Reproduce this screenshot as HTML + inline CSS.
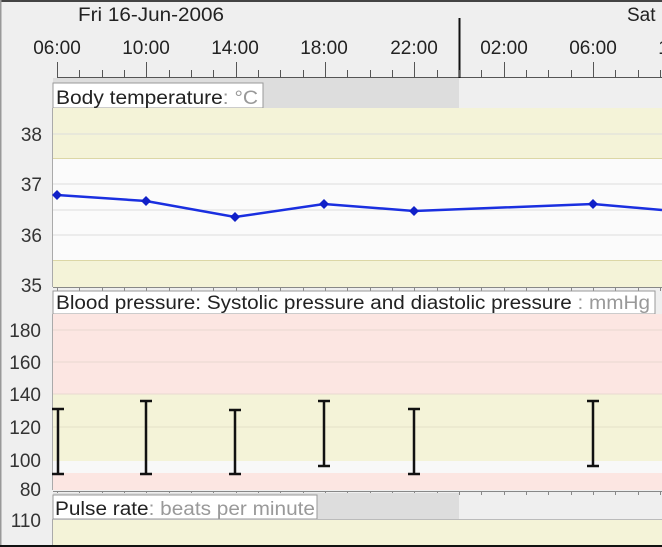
<!DOCTYPE html>
<html><head><meta charset="utf-8"><style>
html,body{margin:0;padding:0;background:#efefef;}
svg{display:block;font-family:"Liberation Sans",sans-serif;}
</style></head><body>
<svg id="s" width="662" height="547" viewBox="0 0 662 547" xmlns="http://www.w3.org/2000/svg">
<rect x="0" y="0" width="662" height="547" fill="#efefef"/>
<rect x="0" y="0" width="662" height="2" fill="#444"/>
<rect x="0" y="0" width="1.5" height="547" fill="#999"/>
<text x="78" y="21" font-size="19" fill="#222" textLength="146" lengthAdjust="spacingAndGlyphs">Fri 16-Jun-2006</text>
<text x="627" y="21" font-size="19" fill="#222">Sat</text>
<g font-size="19" fill="#222" text-anchor="middle">
<text x="57" y="54">06:00</text><text x="146" y="54">10:00</text><text x="235" y="54">14:00</text>
<text x="324" y="54">18:00</text><text x="414" y="54">22:00</text><text x="504" y="54">02:00</text>
<text x="593" y="54">06:00</text><text x="682" y="54">10:00</text>
</g>
<line x1="57" y1="77.5" x2="662" y2="77.5" stroke="#555" stroke-width="1"/>
<line x1="459.5" y1="18" x2="459.5" y2="78" stroke="#111" stroke-width="2"/>
<g id="topticks" stroke="#555" stroke-width="1"></g>

<rect x="53" y="78" width="406" height="30" fill="#dddddd"/>
<rect x="53" y="83" width="210" height="25" fill="#fff" stroke="#999"/>
<text x="56" y="104" font-size="19" fill="#222" textLength="202" lengthAdjust="spacingAndGlyphs">Body temperature<tspan fill="#999">: °C</tspan></text>
<rect x="53" y="108" width="609" height="179" fill="#fbfbfb"/>
<rect x="53" y="108" width="609" height="50" fill="#f4f3d8"/>
<rect x="53" y="260" width="609" height="27" fill="#f4f3d8"/>
<line x1="53" y1="158.5" x2="662" y2="158.5" stroke="#dcd7a6"/>
<line x1="53" y1="260.5" x2="662" y2="260.5" stroke="#dcd7a6"/>
<g stroke="#ddd"><line x1="53" y1="134" x2="662" y2="134"/><line x1="53" y1="184" x2="662" y2="184"/><line x1="53" y1="210" x2="662" y2="210"/><line x1="53" y1="235" x2="662" y2="235"/></g>
<line x1="52.5" y1="108" x2="52.5" y2="287" stroke="#aaa"/>
<g font-size="19" fill="#333" text-anchor="end">
<text x="42" y="141">38</text><text x="42" y="191">37</text><text x="42" y="242">36</text><text x="42" y="292">35</text>
</g>
<polyline points="57,195 146,201 235,217 324,204 414,211 593,204 662,210" fill="none" stroke="#1a2fe0" stroke-width="2.5"/>
<g fill="#1020c8" id="dia"></g>
<line x1="53" y1="287.5" x2="662" y2="287.5" stroke="#888"/>
<g id="t2" stroke="#888"></g>

<rect x="53" y="291" width="602" height="23" fill="#fff" stroke="#999"/>
<text x="56" y="309" font-size="19" fill="#222" textLength="594" lengthAdjust="spacingAndGlyphs">Blood pressure: Systolic pressure and diastolic pressure<tspan fill="#999"> : mmHg</tspan></text>
<rect x="53" y="314" width="609" height="80" fill="#fce6e2"/>
<rect x="53" y="394" width="609" height="67" fill="#f4f3d8"/>
<rect x="53" y="461" width="609" height="12" fill="#f8f8f8"/>
<rect x="53" y="473" width="609" height="17" fill="#fce6e2"/>
<g stroke="#e8d8d0"><line x1="53" y1="330" x2="662" y2="330"/><line x1="53" y1="362" x2="662" y2="362"/><line x1="53" y1="394" x2="662" y2="394"/></g>
<g stroke="#e4e2c8"><line x1="53" y1="427" x2="662" y2="427"/></g>
<line x1="52.5" y1="314" x2="52.5" y2="490" stroke="#aaa"/>
<g font-size="19" fill="#333" text-anchor="end">
<text x="41" y="337">180</text><text x="41" y="369">160</text><text x="41" y="401">140</text>
<text x="41" y="434">120</text><text x="41" y="467">100</text><text x="41" y="496">80</text>
</g>
<g stroke="#111" stroke-width="2.5" id="bars"></g>
<line x1="53" y1="491.5" x2="662" y2="491.5" stroke="#888"/>
<g id="t3" stroke="#888"></g>

<rect x="53" y="493" width="406" height="26" fill="#dddddd"/>
<rect x="53" y="495" width="264" height="24" fill="#fff" stroke="#999"/>
<text x="55" y="515" font-size="19" fill="#222" textLength="260" lengthAdjust="spacingAndGlyphs">Pulse rate<tspan fill="#999">: beats per minute</tspan></text>
<line x1="53" y1="519.5" x2="662" y2="519.5" stroke="#bbb"/>
<rect x="53" y="520" width="609" height="25" fill="#f4f3d8"/>
<line x1="52.5" y1="519" x2="52.5" y2="545" stroke="#aaa"/>
<text x="41" y="527" font-size="19" fill="#333" text-anchor="end">110</text>
<rect x="0" y="545" width="662" height="2" fill="#111"/>
</svg>
<script>
var ns="http://www.w3.org/2000/svg";
function L(g,x1,y1,x2,y2){var l=document.createElementNS(ns,"line");l.setAttribute("x1",x1);l.setAttribute("y1",y1);l.setAttribute("x2",x2);l.setAttribute("y2",y2);document.getElementById(g).appendChild(l);}
for(var h=0;h<28;h++){var x=Math.round(57+h*22.33)+0.5;if(x>662)break;var maj=h%4==0;
L("topticks",x,maj?62:70,x,77);L("t2",x,287,x,291);L("t3",x,491,x,495);}
var pts=[[57,195],[146,201],[235,217],[324,204],[414,211],[593,204]];
pts.forEach(function(p){var d=document.createElementNS(ns,"polygon");d.setAttribute("points",(p[0])+","+(p[1]-5)+" "+(p[0]+5)+","+p[1]+" "+p[0]+","+(p[1]+5)+" "+(p[0]-5)+","+p[1]);document.getElementById("dia").appendChild(d);});
var b=[[58,409,474],[146,401,474],[235,410,474],[324,401,466],[414,409,474],[593,401,466]];
b.forEach(function(a){L("bars",a[0],a[1],a[0],a[2]);L("bars",a[0]-6,a[1],a[0]+6,a[1]);L("bars",a[0]-6,a[2],a[0]+6,a[2]);});
</script>
</body></html>
